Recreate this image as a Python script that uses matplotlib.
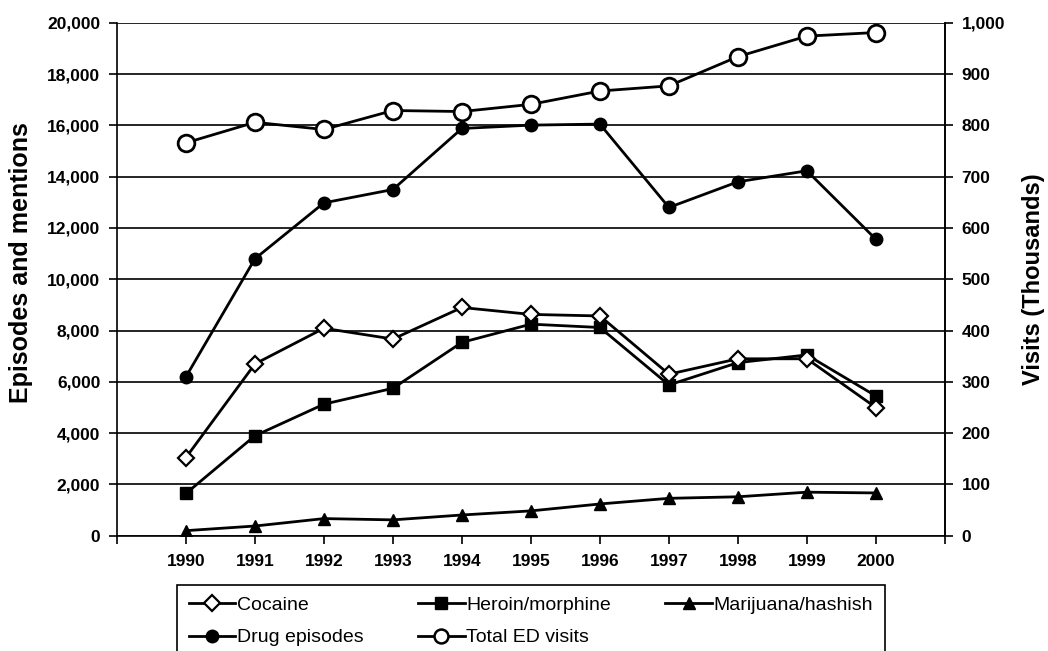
import matplotlib
matplotlib.use("Agg")
import matplotlib.pyplot as plt
from matplotlib.lines import Line2D

plt.rcParams['font.family'] = ['Liberation Sans', 'DejaVu Sans']

years = [1990, 1991, 1992, 1993, 1994, 1995, 1996, 1997, 1998, 1999, 2000]
cocaine = [3050, 6700, 8090, 7670, 8900, 8630, 8570, 6300, 6900, 6900, 5000]
heroin = [1650, 3900, 5130, 5750, 7540, 8250, 8120, 5880, 6750, 7050, 5450]
marijuana = [200, 380, 670, 620, 810, 970, 1240, 1460, 1520, 1700, 1670]
drug_episodes = [6200, 10800, 12980, 13500, 15880, 16010, 16050, 12800, 13800, 14230, 11560]
total_ed = [766, 806, 792, 829, 827, 841, 867, 877, 934, 974, 981]  # thousands, right axis

fig = plt.figure(figsize=(10.48, 6.51), dpi=100)
ax = fig.add_axes([0.1116, 0.177, 0.790, 0.788])
ax2 = ax.twinx()

lw = 2
ax.plot(years, drug_episodes, '-o', color='black', lw=lw, ms=9, mfc='black', zorder=3)
ax.plot(years, cocaine, '-D', color='black', lw=lw, ms=8, mfc='white', mew=1.6, zorder=4)
ax.plot(years, heroin, '-s', color='black', lw=lw, ms=9, mfc='black', zorder=3)
ax.plot(years, marijuana, '-^', color='black', lw=lw, ms=9, mfc='black', zorder=3)
ax2.plot(years, total_ed, '-o', color='black', lw=lw, ms=12, mfc='white', mew=2, zorder=3)

ax.set_xlim(1989, 2001)
ax.set_ylim(0, 20000)
ax2.set_ylim(0, 1000)
ax.set_yticks(range(0, 20001, 2000))
ax.set_yticklabels([f"{v:,}" for v in range(0, 20001, 2000)])
ax2.set_yticks(range(0, 1001, 100))
ax2.set_yticklabels([f"{v:,}" for v in range(0, 1001, 100)])
ax.set_xticks(range(1989, 2002))
ax.set_xticklabels([''] + [str(y) for y in years] + [''])

ax.grid(axis='y', color='black', lw=1.2)
ax.set_axisbelow(True)
for a in (ax, ax2):
    a.spines['top'].set_visible(False)
    for s in a.spines.values():
        s.set_linewidth(1.2)
ax2.spines['left'].set_visible(False)
ax2.spines['bottom'].set_visible(False)

ax.tick_params(axis='both', direction='out', length=6, width=1.2, labelsize=12.5, pad=6)
ax2.tick_params(axis='y', direction='out', length=6, width=1.2, labelsize=12.5, pad=6)
for lab in ax.get_xticklabels() + ax.get_yticklabels() + ax2.get_yticklabels():
    lab.set_fontweight('bold')
ax.tick_params(axis='x', pad=7)

ax.set_ylabel('Episodes and mentions', fontsize=18, fontweight='bold', labelpad=10)
ax.yaxis.label.set_y(0.533)
ax2.set_ylabel('Visits (Thousands)', fontsize=17, fontweight='bold', labelpad=12)

handles = [
    Line2D([], [], color='black', lw=lw, marker='D', ms=8, mfc='white', mew=1.6),
    Line2D([], [], color='black', lw=lw, marker='o', ms=9, mfc='black'),
    Line2D([], [], color='black', lw=lw, marker='s', ms=9, mfc='black'),
    Line2D([], [], color='black', lw=lw, marker='o', ms=10, mfc='white', mew=1.8),
    Line2D([], [], color='black', lw=lw, marker='^', ms=9, mfc='black'),
]
labels = ['Cocaine', 'Drug episodes', 'Heroin/morphine', 'Total ED visits', 'Marijuana/hashish']
leg = fig.legend(handles, labels, loc='upper left', ncol=3, mode='expand',
                 bbox_to_anchor=(177 / 1048, -0.05, (885 - 177) / 1048, 1 - 585 / 651 + 0.05),
                 borderaxespad=0, fontsize=14, handlelength=2.4, handletextpad=0.1,
                 borderpad=0.6, labelspacing=0.75, fancybox=False, edgecolor='black',
                 framealpha=1)
leg.get_frame().set_linewidth(1.2)

fig.savefig('out.png', dpi=100)
